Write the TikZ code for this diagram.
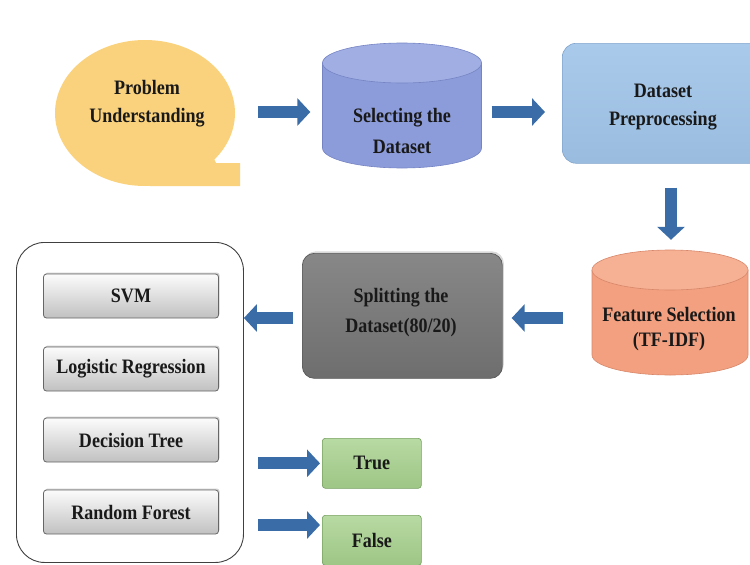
\documentclass[tikz,border=0pt]{standalone}
\usepackage{fontspec}
\setmainfont[FakeStretch=0.88]{Liberation Serif}
\usetikzlibrary{arrows.meta,shadows}
\definecolor{bubble}{RGB}{250,210,125}
\definecolor{cylA}{RGB}{140,156,218}
\definecolor{cylAtop}{RGB}{160,174,228}
\definecolor{cylAline}{RGB}{118,132,196}
\definecolor{prepro}{RGB}{160,196,232}
\definecolor{preproline}{RGB}{130,165,205}
\definecolor{feat}{RGB}{243,160,128}
\definecolor{feattop}{RGB}{246,176,148}
\definecolor{featline}{RGB}{215,135,105}
\definecolor{splitc}{RGB}{125,125,125}
\definecolor{modelc}{RGB}{214,214,214}
\definecolor{greenc}{RGB}{166,208,140}
\definecolor{greenline}{RGB}{118,160,96}
\definecolor{arrowc}{RGB}{58,108,168}
\begin{document}
\begin{tikzpicture}[x=1pt,y=-1pt,
  txt/.style={font=\bfseries\fontsize{20.5}{28}\selectfont,align=center,text=black!90},
  holder/.style={txt,inner sep=0pt},
  barrow/.style={draw=arrowc,line width=12,-{Triangle[length=13,width=27]}},
  modelbox/.style={txt,draw=black!60,line width=0.8,rounded corners=3,
    top color=white!92!modelc,bottom color=black!10!modelc,inner sep=0pt,
    minimum width=175,minimum height=44,drop shadow={opacity=0.35,shadow xshift=1.2,shadow yshift=-1.5}},
  greenbox/.style={txt,draw=greenline,line width=0.6,rounded corners=3,
    top color=white!20!greenc,bottom color=black!5!greenc,
    minimum width=99,minimum height=50},
  ]
\useasboundingbox (0,0) rectangle (750,565);
% ---------- Problem Understanding (speech bubble)
\fill[bubble] (145,113) ellipse [x radius=90,y radius=73];
\fill[bubble] (150,186) -- (240,186) -- (240,163) -- (216,163) -- (205,140) -- cycle;
\node[holder,minimum width=185,minimum height=146] (pu) at (147.5,113) {};
\node[txt] at (147,104) {Problem\\Understanding};
% ---------- Selecting the Dataset (cylinder)
\fill[cylA,draw=cylAline,line width=0.6] (322.5,63) -- (322.5,148)
  arc[start angle=180,end angle=0,x radius=79.5,y radius=20] -- (481.5,63) -- cycle;
\fill[cylAtop,draw=cylAline,line width=0.6] (402,63) ellipse [x radius=79.5,y radius=20];
\node[holder,minimum width=159,minimum height=100] (sd) at (402,118) {};
\node[txt,font=\bfseries\fontsize{20.5}{31}\selectfont] at (402,131) {Selecting the\\Dataset};
% ---------- Dataset Preprocessing
\node[txt,draw=preproline,line width=0.6,rounded corners=14,
  top color=white!10!prepro,bottom color=black!4!prepro,
  minimum width=210,minimum height=120,anchor=north west] (dp) at (562,43) {};
\node[txt] at (663,107) {Dataset\\Preprocessing};
% ---------- Feature Selection (cylinder)
\fill[feat,draw=featline,line width=0.6] (592,270) -- (592,355)
  arc[start angle=180,end angle=0,x radius=78,y radius=20] -- (748,270) -- cycle;
\fill[feattop,draw=featline,line width=0.6] (670,270) ellipse [x radius=78,y radius=20];
\node[holder,minimum width=156,minimum height=125] (fs) at (670,312.5) {};
\node[txt,font=\bfseries\fontsize{20.5}{25}\selectfont] at (669,329) {Feature Selection\\(TF-IDF)};
% ---------- Splitting the Dataset
\node[txt,draw=black!65,line width=0.7,rounded corners=12,
  top color=white!8!splitc,bottom color=black!12!splitc,
  minimum width=200,minimum height=125,anchor=north west,
  drop shadow={opacity=0.3,shadow xshift=1.5,shadow yshift=-2}] (sp) at (302,253) {};
\node[txt,font=\bfseries\fontsize{20.5}{30}\selectfont] at (401,313) {Splitting the\\Dataset(80/20)};
% ---------- Models container
\node[draw=black!75,line width=0.9,rounded corners=28,fill=white,
  minimum width=227,minimum height=320,anchor=north west] (models) at (16,242) {};
\node[modelbox] (svm) at (131,296) {SVM};
\node[modelbox] (lr) at (131,369) {Logistic Regression};
\node[modelbox] (dt) at (131,440) {Decision Tree};
\node[modelbox] (rf) at (131,512) {Random Forest};
% ---------- True / False
\node[greenbox,anchor=north west] (tr) at (322,438) {True};
\node[greenbox,anchor=north west] (fa) at (322,515) {False};
% ---------- Arrows
\draw[barrow,shorten <=18,shorten >=12] (pu.east |- 0,112) -- (sd.west |- 0,112);
\draw[barrow,shorten <=10,shorten >=17] (sd.east |- 0,112) -- (dp.west |- 0,112);
\draw[barrow,shorten <=24,shorten >=10] (dp.south -| 671,0) -- (fs.north -| 671,0);
\draw[barrow,shorten <=29,shorten >=9] (fs.west |- 0,318) -- (sp.east |- 0,318);
\draw[barrow,shorten <=9,shorten >=0] (sp.west |- 0,318) -- (models.east |- 0,318);
\draw[barrow,shorten <=14,shorten >=2] (models.east |- tr.west) -- (tr.west);
\draw[barrow,shorten <=14,shorten >=2] (models.east |- 0,525) -- (fa.west |- 0,525);
\end{tikzpicture}
\end{document}
